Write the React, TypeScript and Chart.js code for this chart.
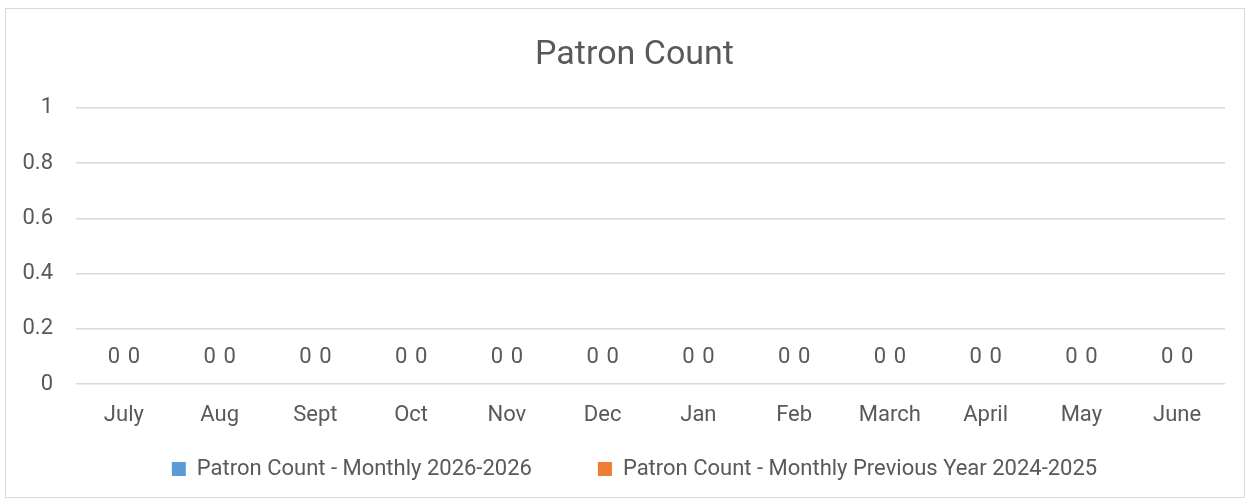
import React, { useEffect, useRef } from "react";
import { Chart, registerables } from "chart.js";

Chart.register(...registerables);

const categories = ["July", "Aug", "Sept", "Oct", "Nov", "Dec", "Jan", "Feb", "March", "April", "May", "June"];
const currentYear = [0, 0, 0, 0, 0, 0, 0, 0, 0, 0, 0, 0];
const previousYear = [0, 0, 0, 0, 0, 0, 0, 0, 0, 0, 0, 0];
const seriesNames = ["Patron Count - Monthly 2026-2026", "Patron Count - Monthly Previous Year 2024-2025"];
const yTicks = [0, 0.2, 0.4, 0.6, 0.8, 1];

const FONT = "Roboto, 'Open Sans', sans-serif";
const TEXT = "#595959";
const FS = 22;

const labelPlugin = {
  id: "zeroLabels",
  afterDatasetsDraw(chart: any) {
    const ctx = chart.ctx;
    ctx.save();
    ctx.font = `${FS}px ${FONT}`;
    ctx.fillStyle = TEXT;
    ctx.textAlign = "center";
    ctx.textBaseline = "middle";
    chart.data.datasets.forEach((ds: any, i: number) => {
      const meta = chart.getDatasetMeta(i);
      meta.data.forEach((el: any, j: number) => {
        ctx.fillText(String(ds.data[j]), el.x, el.y - 27);
      });
    });
    ctx.restore();
  },
};

export default function App() {
  const ref = useRef<HTMLCanvasElement>(null);
  useEffect(() => {
    if (!ref.current) return;
    const chart = new Chart(ref.current, {
      type: "bar",
      data: {
        labels: categories,
        datasets: [
          { label: seriesNames[0], data: currentYear, backgroundColor: "#5B9BD5", borderWidth: 0 },
          { label: seriesNames[1], data: previousYear, backgroundColor: "#ED7D31", borderWidth: 0 },
        ],
      },
      plugins: [labelPlugin],
      options: {
        responsive: false,
        animation: false,
        maintainAspectRatio: false,
        datasets: { bar: { categoryPercentage: 0.42, barPercentage: 1 } },
        layout: { padding: { left: 38, right: 19, top: 14, bottom: 7 } },
        plugins: {
          title: {
            display: true,
            text: "Patron Count",
            color: TEXT,
            font: { family: FONT, size: 34, weight: "normal" },
            padding: { top: 12, bottom: 32 },
          },
          legend: {
            display: true,
            position: "bottom",
            labels: {
              color: TEXT,
              font: { family: FONT, size: FS },
              boxWidth: 14,
              boxHeight: 14,
              padding: 66,
            },
          },
          tooltip: { enabled: false },
        },
        scales: {
          x: {
            grid: { display: false, drawTicks: false },
            border: { display: false },
            ticks: { color: TEXT, font: { family: FONT, size: FS }, padding: 18 },
            afterFit(scale: any) {
              scale._computeLabelArea = () => undefined;
              scale.height = 8;
            },
          },
          y: {
            min: 0,
            max: 1,
            afterBuildTicks(scale: any) {
              scale.ticks = yTicks.map((v) => ({ value: v }));
            },
            afterFit(scale: any) {
              scale._computeLabelArea = () => undefined;
              scale.width = 32;
            },
            grid: { color: "#d9d9d9", lineWidth: 1.5, drawTicks: false },
            border: { display: false },
            ticks: {
              color: TEXT,
              font: { family: FONT, size: FS },
              padding: 23,
              callback: (v: any) => String(Number(v)),
            },
          },
        },
      },
    } as any);
    return () => chart.destroy();
  }, []);
  return (
    <div
      style={{
        position: "absolute",
        left: 5,
        top: 8,
        width: 1240,
        height: 490,
        border: "1px solid #d9d9d9",
        boxSizing: "border-box",
        background: "#fff",
      }}
    >
      <canvas ref={ref} width={1238} height={488} style={{ display: "block" }} />
    </div>
  );
}
